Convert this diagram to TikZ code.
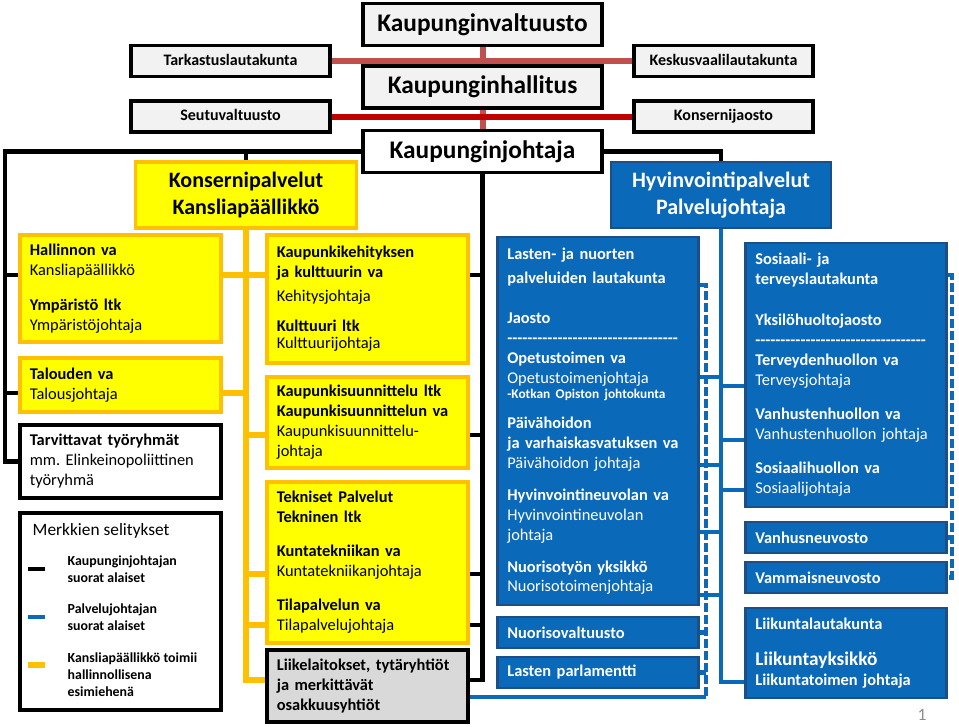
\documentclass[tikz,border=0pt]{standalone}
\usepackage{fontspec}
\setmainfont{Carlito}
\definecolor{kyellow}{HTML}{FFFF00}
\definecolor{korange}{HTML}{FFC000}
\definecolor{kblue}{HTML}{0B69B9}
\definecolor{kdarkblue}{HTML}{1B4F86}
\definecolor{kred}{HTML}{C0504D}
\definecolor{kdarkred}{HTML}{C00000}
\newcommand{\viiva}{\foreach \i in {1,...,34}{-}}

\begin{document}
\begin{tikzpicture}[x=0.75pt, y=-0.75pt,
  topbox/.style={draw, line width=2.6pt, fill=black!5, inner sep=0pt,
    minimum width=179pt, minimum height=31.5pt, font=\fontsize{19}{22}\selectfont\bfseries},
  sidebox/.style={draw, line width=2.6pt, fill=black!5, inner sep=0pt, text height=8.5pt, text depth=2.5pt,
    minimum height=23.5pt, font=\fontsize{12}{14}\selectfont\bfseries},
  headbox/.style={line width=2.6pt, inner sep=0pt, align=center,
    minimum width=166pt, minimum height=49.5pt, font=\fontsize{16.5}{20}\selectfont\bfseries},
  ybox/.style={draw=korange, fill=kyellow, line width=2.6pt, text width=136pt,
    inner xsep=7.5pt, inner ysep=0pt, align=left, font=\fontsize{12.3}{15}\selectfont},
  bbox/.style={draw=kdarkblue, fill=kblue, text=white, line width=2pt, text width=136pt,
    inner xsep=7.5pt, inner ysep=0pt, align=left, font=\fontsize{12.3}{15}\selectfont\bfseries},
  legtext/.style={anchor=west, align=left, font=\fontsize{10.4}{12.8}\selectfont\bfseries},
  blackline/.style={line width=3.6pt},
  yline/.style={korange, line width=4pt},
  bline/.style={kblue, line width=3pt},
  bdash/.style={kblue, line width=3.5pt, dash pattern=on 7pt off 2pt},
  rline/.style={kred, line width=4.5pt}]
\useasboundingbox (0,0) rectangle (959,726);

\coordinate (yA) at (0,275);
\coordinate (yB) at (0,393);
\coordinate (yC) at (0,435);
\coordinate (yD) at (0,574);
\coordinate (yE) at (0,625);
\coordinate (yF) at (0,680);
\coordinate (yZ) at (0,697);
\coordinate (kjleft) at (5,0);
\coordinate (dleft) at (706,0);
\coordinate (dright) at (952,0);

\node[topbox] (valtuusto) at (482.5,24.5) {Kaupunginvaltuusto};
\node[topbox] (hallitus) at (482.5,87) {Kaupunginhallitus};
\node[topbox, fill=white] (johtaja) at (482.5,151.5) {Kaupunginjohtaja};
\node[sidebox, minimum width=149pt] (tarkastus) at (230.5,61) {Tarkastuslautakunta};
\node[sidebox, minimum width=134pt] (keskusvaali) at (723.5,61) {Keskusvaalilautakunta};
\node[sidebox, minimum width=149pt] (seutu) at (230.5,116.5) {Seutuvaltuusto};
\node[sidebox, minimum width=134pt] (konsernijaosto) at (723.5,116.5) {Konsernijaosto};

\node[headbox, draw=korange, fill=kyellow] (konserni) at (246,195) {Konsernipalvelut\\Kansliapäällikkö};
\node[headbox, draw=kdarkblue, line width=2pt, fill=kblue, text=white, minimum width=165pt]
  (hyvinvointi) at (721,195) {Hyvinvointipalvelut\\Palvelujohtaja};

\node[ybox, minimum height=80.3pt] (hallinto) at (120.5,288.5)
  {\textbf{Hallinnon va}\\Kansliapäällikkö\\[11pt]\textbf{Ympäristö ltk}\\Ympäristöjohtaja};
\node[ybox, minimum height=40.5pt] (talous) at (120.5,385)
  {\textbf{Talouden va}\\Talousjohtaja};
\node[ybox, draw=black, fill=white, minimum height=54.8pt] (tyoryhmat) at (120.5,461.5)
  {\textbf{Tarvittavat työryhmät}\\mm.\ Elinkeinopoliittinen\\työryhmä};
\node[ybox, minimum height=96pt] (kehitys) at (367.5,299)
  {\textbf{Kaupunkikehityksen}\\\textbf{ja kulttuurin va}\\[3pt]Kehitysjohtaja\\[7.5pt]
   \textbf{Kulttuuri ltk}\\[-2.25pt]Kulttuurijohtaja};
\node[ybox, minimum height=68.3pt] (suunnittelu) at (367.5,422.5)
  {\textbf{Kaupunkisuunnittelu ltk}\\\textbf{Kaupunkisuunnittelun va}\\Kaupunkisuunnittelu-\\johtaja};
\node[ybox, minimum height=120.8pt] (tekniset) at (367.5,562.5)
  {\textbf{Tekniset Palvelut}\\\textbf{Tekninen ltk}\\[10.5pt]\textbf{Kuntatekniikan va}\\
   Kuntatekniikanjohtaja\\[10.5pt]\textbf{Tilapalvelun va}\\Tilapalvelujohtaja};
\node[ybox, draw=black, fill=black!15, minimum height=54pt] (liikelaitos) at (367.5,686)
  {\textbf{Liikelaitokset, tytäryhtiöt}\\\textbf{ja merkittävät}\\\textbf{osakkuusyhtiöt}};

\node[draw, line width=2.6pt, fill=white, minimum width=150.8pt, minimum height=147.8pt]
  (selitykset) at (120.5,611.5) {};
\node[anchor=west, font=\fontsize{13}{15}\selectfont] (seltitle) at (28,531) {Merkkien selitykset};
\draw[blackline] (28,569) -- (45,569);
\draw[bline, line width=3.6pt] (28,617) -- (45,617);
\draw[yline] (28,665) -- (45,665);
\node[legtext] (sel1) at (63,569.5) {Kaupunginjohtajan\\suorat alaiset};
\node[legtext] (sel2) at (63,617.5) {Palvelujohtajan\\suorat alaiset};
\node[legtext] (sel3) at (63,674.5) {Kansliapäällikkö toimii\\hallinnollisena\\esimiehenä};

\node[bbox, minimum height=276pt] (lanula) at (598,421)
  {Lasten- ja nuorten\\[3pt]palveluiden lautakunta\\[15pt]Jaosto\\\viiva\\Opetustoimen va\\
   \textmd{Opetustoimenjohtaja}\\[-4pt]{\fontsize{10}{12}\selectfont -Kotkan Opiston johtokunta}\\[8pt]
   Päivähoidon\\ja varhaiskasvatuksen va\\\textmd{Päivähoidon johtaja}\\[9pt]
   Hyvinvointineuvolan va\\\textmd{Hyvinvointineuvolan}\\\textmd{johtaja}\\[9pt]
   Nuorisotyön yksikkö\\[-1pt]\textmd{Nuorisotoimenjohtaja}};
\node[bbox, minimum height=23.3pt] (nuorisoval) at (598,632.5) {Nuorisovaltuusto};
\node[bbox, minimum height=23.3pt] (parlamentti) at (598,672.5) {Lasten parlamentti};
\node[bbox, minimum height=198pt] (sote) at (846,375)
  {Sosiaali- ja\\terveyslautakunta\\[15.75pt]Yksilöhuoltojaosto\\\viiva\\Terveydenhuollon va\\
   \textmd{Terveysjohtaja}\\[10.5pt]Vanhustenhuollon va\\\textmd{Vanhustenhuollon johtaja}\\[10.5pt]
   Sosiaalihuollon va\\\textmd{Sosiaalijohtaja}};
\node[bbox, minimum height=23.3pt] (vanhusn) at (846,537.5) {Vanhusneuvosto};
\node[bbox, minimum height=23.3pt] (vammaisn) at (846,577.5) {Vammaisneuvosto};
\node[bbox, minimum height=67.5pt] (liikunta) at (846,653)
  {Liikuntalautakunta\\[12pt]{\fontsize{14.5}{16}\selectfont Liikuntayksikkö}\\Liikuntatoimen johtaja};

\node[text=black!45, font=\fontsize{13}{15}\selectfont] (sivu) at (922,715) {1};

\draw[rline] (tarkastus.east) -- (keskusvaali.west);
\draw[rline] (valtuusto.south) -- (hallitus.north);
\draw[rline] (hallitus.south) -- (johtaja.north);
\draw[rline, kdarkred] (seutu.east) -- (konsernijaosto.west);

\draw[blackline] (johtaja.west) -| (tyoryhmat.west -| kjleft) -- (tyoryhmat.west);
\draw[blackline] (johtaja.west) -| (konserni.north);
\draw[blackline] (johtaja.east) -| (hyvinvointi.north);
\draw[blackline] (kjleft |- yA) -- (hallinto.west |- yA);
\draw[blackline] (kjleft |- yB) -- (talous.west |- yB);
\draw[blackline] (johtaja.south) -- (johtaja.south |- yF) -- (liikelaitos.east |- yF);
\draw[blackline] (kehitys.east |- yA) -- (johtaja.south |- yA);
\draw[blackline] (suunnittelu.east |- yC) -- (johtaja.south |- yC);
\draw[blackline] (tekniset.east |- yD) -- (johtaja.south |- yD);
\draw[blackline] (tekniset.east |- yE) -- (johtaja.south |- yE);

\draw[yline] (konserni.south) -- (konserni.south |- yF) -- (liikelaitos.west |- yF);
\draw[yline] (hallinto.east |- yA) -- (kehitys.west |- yA);
\draw[yline] (talous.east |- yB) -- (konserni.south |- yB);
\draw[yline] (konserni.south |- yC) -- (suunnittelu.west |- yC);
\draw[yline] (konserni.south |- yD) -- (tekniset.west |- yD);
\draw[yline] (konserni.south |- yE) -- (tekniset.west |- yE);

\draw[bline] (hyvinvointi.south) -- (hyvinvointi.south |- 0,682) -- (liikunta.west |- 0,682);
\foreach \yy in {386,440,490}
  \draw[bline] (hyvinvointi.south |- 0,\yy) -- (sote.west |- 0,\yy);
\foreach \yy in {377,465,532,595}
  \draw[bline] (lanula.east |- 0,\yy) -- (hyvinvointi.south |- 0,\yy);

\draw[bdash] (lanula.east |- 0,285) -| (dleft |- yZ);
\draw[bdash] (nuorisoval.east) -- (nuorisoval.east -| dleft);
\draw[bdash] (parlamentti.east) -- (parlamentti.east -| dleft);
\draw[bline, line width=2.4pt] (liikelaitos.east |- yZ) -- (dleft |- yZ);
\draw[bdash] (sote.east |- 0,275) -| (vammaisn.east -| dright) -- (vammaisn.east);
\draw[bdash] (vanhusn.east) -- (vanhusn.east -| dright);
\end{tikzpicture}
\end{document}
